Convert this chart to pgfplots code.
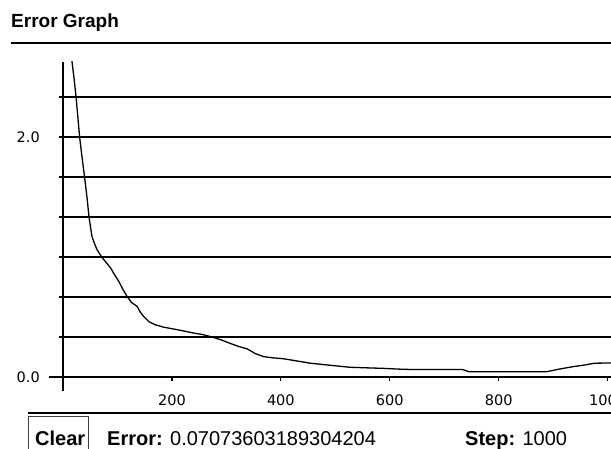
\documentclass[border=0pt]{standalone}
\usepackage{fontspec}
\setmainfont{Liberation Sans}
\newfontfamily\tickfont{DejaVu Sans}
\usepackage{pgfplots}
\pgfplotsset{compat=1.18}

\begin{document}
\begin{tikzpicture}[x=1pt,y=1pt]
% header
\node[anchor=base west, inner sep=0pt, font=\fontsize{19}{21}\selectfont\bfseries] at (11,420) {Error Graph};
\draw[line width=1.6pt] (10.7,405) -- (615,405);

\begin{axis}[
  at={(63pt,71pt)}, anchor=south west,
  scale only axis, width=550.1pt, height=315pt,
  xmin=0, xmax=1010, ymin=0, ymax=2.625,
  axis lines=left,
  axis line style={-, line width=1.6pt, shorten <=-14pt},
  xtick={200,400,600,800,1000},
  xticklabels={200,400,600,800,1000},
  ytick={0,0.333333,0.666667,1,1.333333,1.666667,2,2.333333},
  yticklabels={0.0,,,,,,2.0,},
  ymajorgrids,
  grid style={black, line width=1.6pt},
  tick align=outside, major tick length=4pt,
  tick style={black, line width=1.2pt},
  /pgf/number format/assume math mode=true,
  tick label style={font=\tickfont\fontsize{14.5}{16}\selectfont, inner sep=0pt},
  xticklabel style={anchor=north, yshift=-14pt},
  yticklabel style={anchor=east, xshift=-19pt},
]
\addplot[black, line width=1.3pt] coordinates {
  (14,2.72) (20,2.5) (24,2.333) (30.5,2.0) (35,1.83) (39.6,1.667)
  (44,1.5) (47.7,1.335) (53,1.175) (56,1.134) (62,1.065) (71,1.0)
  (80,0.95) (87,0.911) (95,0.85) (102,0.80) (110,0.73) (118,0.668)
  (126,0.62) (136,0.589) (142,0.54) (148,0.505) (158,0.46) (169,0.436)
  (185,0.415) (203,0.40) (220,0.385) (240,0.366) (255,0.355) (270,0.338)
  (290,0.31) (307,0.28) (322,0.255) (338,0.235) (353,0.195) (368,0.17)
  (385,0.16) (405,0.152) (429,0.134) (454,0.115) (490,0.098) (527,0.081)
  (560,0.076) (588,0.072) (620,0.065) (646,0.062) (734,0.062) (745,0.044)
  (888,0.044) (909,0.064) (936,0.086) (958,0.100) (976,0.115) (1006,0.117)
  (1010,0.117)
};
\end{axis}

% status bar
\draw[line width=1.6pt] (28.3,35) -- (615,35);
\draw[line width=0.8pt, black!75] (28.5,-5) rectangle (88.5,31.5);
\node[anchor=base west, inner sep=0pt, font=\fontsize{20}{22}\selectfont\bfseries] at (35,3) {Clear};
\node[anchor=base west, inner sep=0pt, font=\fontsize{20}{22}\selectfont] at (107,3) {\textbf{Error:} 0.07073603189304204};
\node[anchor=base west, inner sep=0pt, font=\fontsize{20}{22}\selectfont] at (465,3) {\textbf{Step:} 1000};

\pgfresetboundingbox
\useasboundingbox (0,0) rectangle (611,448);
\end{tikzpicture}
\end{document}
